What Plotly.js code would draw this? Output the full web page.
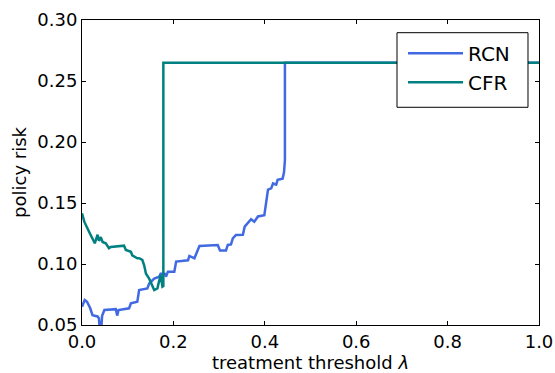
<!DOCTYPE html>
<html>
<head>
<meta charset="utf-8">
<script src="https://cdn.plot.ly/plotly-3.0.1.min.js"></script>
<style>html,body{margin:0;padding:0;background:#fff;}#chart{width:555px;height:373px;}</style>
</head>
<body>
<div id="chart"></div>
<script>
// RCN series (treatment threshold lambda vs policy risk)
const rcnX = [0, 0.006, 0.011, 0.018, 0.023, 0.034, 0.037, 0.039, 0.042, 0.044, 0.049, 0.074, 0.077, 0.080, 0.103, 0.107, 0.121, 0.125, 0.143, 0.147, 0.158, 0.169, 0.172, 0.181, 0.184, 0.188, 0.202, 0.206, 0.232, 0.235, 0.246, 0.257, 0.297, 0.302, 0.315, 0.319, 0.326, 0.330, 0.337, 0.352, 0.356, 0.361, 0.370, 0.377, 0.385, 0.399, 0.403, 0.407, 0.414, 0.418, 0.425, 0.428, 0.439, 0.442, 0.444, 0.444, 1.0];
const rcnY = [0.065, 0.0705, 0.069, 0.0637, 0.058, 0.057, 0.0555, 0.046, 0.046, 0.0575, 0.0623, 0.063, 0.0577, 0.0623, 0.0637, 0.0678, 0.069, 0.0787, 0.080, 0.084, 0.088, 0.0896, 0.092, 0.092, 0.0896, 0.0937, 0.0937, 0.102, 0.103, 0.1066, 0.1047, 0.1148, 0.1156, 0.111, 0.111, 0.1156, 0.116, 0.121, 0.1238, 0.124, 0.1306, 0.133, 0.1367, 0.1347, 0.139, 0.140, 0.150, 0.161, 0.162, 0.166, 0.165, 0.169, 0.170, 0.175, 0.185, 0.265, 0.265];
// CFR series
const cfrX = [0, 0.005, 0.016, 0.023, 0.027, 0.028, 0.034, 0.037, 0.041, 0.045, 0.052, 0.059, 0.063, 0.092, 0.096, 0.107, 0.110, 0.121, 0.125, 0.132, 0.136, 0.140, 0.147, 0.154, 0.158, 0.165, 0.169, 0.172, 0.176, 0.178, 0.178, 1.0];
const cfrY = [0.1416, 0.1347, 0.126, 0.121, 0.117, 0.117, 0.124, 0.119, 0.122, 0.118, 0.117, 0.113, 0.114, 0.115, 0.1115, 0.110, 0.107, 0.1047, 0.1047, 0.1033, 0.099, 0.092, 0.088, 0.0815, 0.0787, 0.080, 0.088, 0.091, 0.0815, 0.082, 0.265, 0.265];
const seriesNames = ["RCN", "CFR"];
const xTicks = [0, 0.2, 0.4, 0.6, 0.8, 1.0];
const xTickText = ["0.0", "0.2", "0.4", "0.6", "0.8", "1.0"];
const yTicks = [0.05, 0.10, 0.15, 0.20, 0.25, 0.30];
const yTickText = ["0.05", "0.10", "0.15", "0.20", "0.25", "0.30"];

const font = "DejaVu Sans, sans-serif";
const traces = [
  {x: rcnX, y: rcnY, name: seriesNames[0], type: "scatter", mode: "lines",
   line: {color: "#4169E1", width: 2.5}},
  {x: cfrX, y: cfrY, name: seriesNames[1], type: "scatter", mode: "lines",
   line: {color: "#008080", width: 2.5}}
];
const axisCommon = {
  showline: true, linecolor: "#000", linewidth: 1, mirror: "allticks",
  ticks: "inside", ticklen: 4, tickcolor: "#000", tickwidth: 1,
  showgrid: false, zeroline: false,
  tickfont: {family: font, size: 18, color: "#000"}
};
const layout = {
  width: 555, height: 373,
  margin: {l: 82, r: 16, t: 20, b: 48},
  paper_bgcolor: "#fff", plot_bgcolor: "#fff",
  font: {family: font, color: "#000"},
  showlegend: true,
  xaxis: Object.assign({}, axisCommon, {
    range: [0, 1], tickvals: xTicks, ticktext: xTickText,
    title: {text: "treatment threshold <i>λ</i>", font: {family: font, size: 18, color: "#000"}, standoff: 4}
  }),
  yaxis: Object.assign({}, axisCommon, {
    range: [0.05, 0.30], tickvals: yTicks, ticktext: yTickText,
    title: {text: "policy risk", font: {family: font, size: 18, color: "#000"}, standoff: 6}
  }),
  // legend frame (matplotlib-style box), drawn as a shape behind the legend entries
  shapes: [{
    type: "rect", xref: "paper", yref: "paper", layer: "above",
    x0: 0.6893, x1: 0.9759, y0: 0.7138, y1: 0.9584,
    fillcolor: "#fff", line: {color: "#000", width: 1}
  }],
  legend: {
    x: 0.7024, y: 0.955, xanchor: "left", yanchor: "top",
    bgcolor: "rgba(0,0,0,0)", borderwidth: 0,
    itemwidth: 55,
    font: {family: font, size: 20, color: "#000"}
  }
};
Plotly.newPlot("chart", traces, layout, {displayModeBar: false, staticPlot: true});
</script>
</body>
</html>
